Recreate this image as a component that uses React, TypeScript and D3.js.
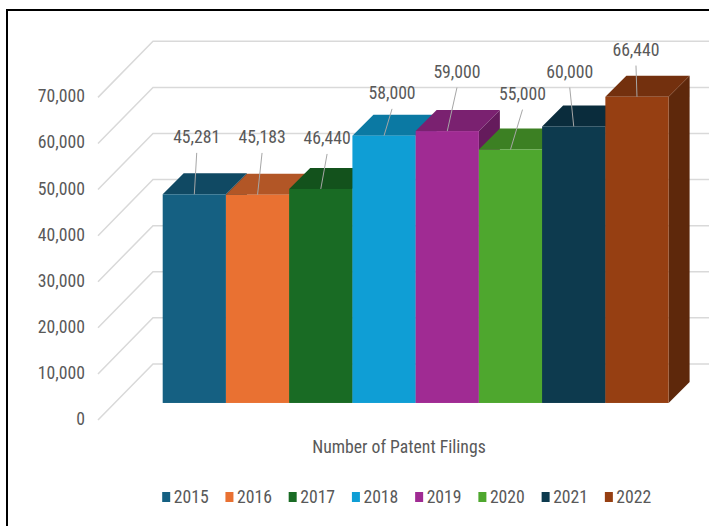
import React from "react";
import * as d3 from "d3";

const years = ["2015", "2016", "2017", "2018", "2019", "2020", "2021", "2022"];
const filings = [45281, 45183, 46440, 58000, 59000, 55000, 60000, 66440];
const barColors = ["#156082", "#e97132", "#196b24", "#0f9ed5", "#a02b93", "#4ea72e", "#0d3a4e", "#963f12"];
const yTicks = [0, 10000, 20000, 30000, 40000, 50000, 60000, 70000];
const axisTitle = "Number of Patent Filings";

// layout (label placement offsets from bar front-top centre, px)
const labelOffsets: [number, number][] = [
  [2.4, -57.4], [4.5, -57.8], [6.3, -51], [8, -42.8],
  [9.7, -59.5], [12, -55.9], [-4, -54.9], [-1, -47.2],
];

const W = 709, H = 526;
const FONT = "'Liberation Sans Narrow', 'Roboto Condensed', 'DejaVu Sans Condensed', 'Liberation Sans', sans-serif";
const TXT = "#595959";
const FS = 17.7;

export default function App() {
  const wallX = 98;       // front edge of side wall
  const frontBase = 420;  // floor front baseline (label plane)
  const wallDepth = 55;   // depth to back wall
  const k = 1.02;         // dy per dx for depth
  const barFrontDepth = 16.7;
  const barDepth = 21;

  const h = d3.scaleLinear().domain([0, 70000]).range([0, 322.6]);
  const x = d3.scaleBand<string>().domain(years).range([162.7, 668.6]).padding(0);
  const bw = x.bandwidth();
  const barBase = frontBase - barFrontDepth * k;

  const pts = (p: [number, number][]) => p.map((q) => q.join(",")).join(" ");

  return (
    <svg width={W} height={H} style={{ position: "absolute", left: 0, top: 0, background: "#fff" }}
      fontFamily={FONT}>
      <rect x={0} y={0} width={W} height={H} fill="#fff" />
      {/* gridlines: side wall + back wall */}
      {yTicks.map((v) => {
        const y0 = frontBase - h(v);
        const y1 = y0 - wallDepth * k;
        return (
          <g key={v}>
            <polyline
              points={pts([[wallX, y0], [wallX + wallDepth, y1], [W, y1]])}
              fill="none" stroke="#d9d9d9" strokeWidth={1.5} />
            <text x={85} y={y0 - 1} textAnchor="end" dominantBaseline="central"
              fontSize={FS} fill={TXT}>{d3.format(",")(v)}</text>
          </g>
        );
      })}
      {/* bars */}
      {years.map((yr, i) => {
        const v = filings[i];
        const x0 = x(yr)!;
        const x1 = x0 + bw;
        const yT = barBase - h(v);
        const dx = barDepth, dy = barDepth;
        const c = d3.color(barColors[i])!;
        const top = c.darker(0.75).formatHex();
        const side = c.darker(1.3).formatHex();
        return (
          <g key={yr}>
            <polygon points={pts([[x1, yT], [x1 + dx, yT - dy], [x1 + dx, barBase - dy], [x1, barBase]])} fill={side} />
            <polygon points={pts([[x0, yT], [x1, yT], [x1 + dx, yT - dy], [x0 + dx, yT - dy]])} fill={top} />
            <rect x={x0} y={yT} width={bw} height={barBase - yT} fill={barColors[i]} />
          </g>
        );
      })}
      {/* data labels */}
      {years.map((yr, i) => {
        const v = filings[i];
        const cx = x(yr)! + bw / 2;
        const yT = barBase - h(v);
        const [ox, oy] = labelOffsets[i];
        const lx = cx + ox, ly = yT + oy;
        return (
          <g key={"l" + yr}>
            <line x1={lx} y1={ly + 16} x2={cx} y2={yT} stroke="#a6a6a6" strokeWidth={1} />
            <text x={lx} y={ly} textAnchor="middle" dominantBaseline="central" fontSize={FS} fill={TXT}>
              {d3.format(",")(v)}
            </text>
          </g>
        );
      })}
      {/* axis title */}
      <text x={399} y={447} textAnchor="middle" dominantBaseline="central" fontSize={FS} fill={TXT}>{axisTitle}</text>
      {/* legend */}
      {years.map((yr, i) => (
        <g key={"g" + yr}>
          <rect x={x(yr)! - 0.5} y={492} width={8} height={10} fill={barColors[i]} />
          <text x={x(yr)! + 11} y={497} dominantBaseline="central" fontSize={FS} fill={TXT}>{yr}</text>
        </g>
      ))}
      {/* frame */}
      <rect x={7} y={10} width={W + 20} height={H + 20} fill="none" stroke="#000" strokeWidth={2} />
    </svg>
  );
}
